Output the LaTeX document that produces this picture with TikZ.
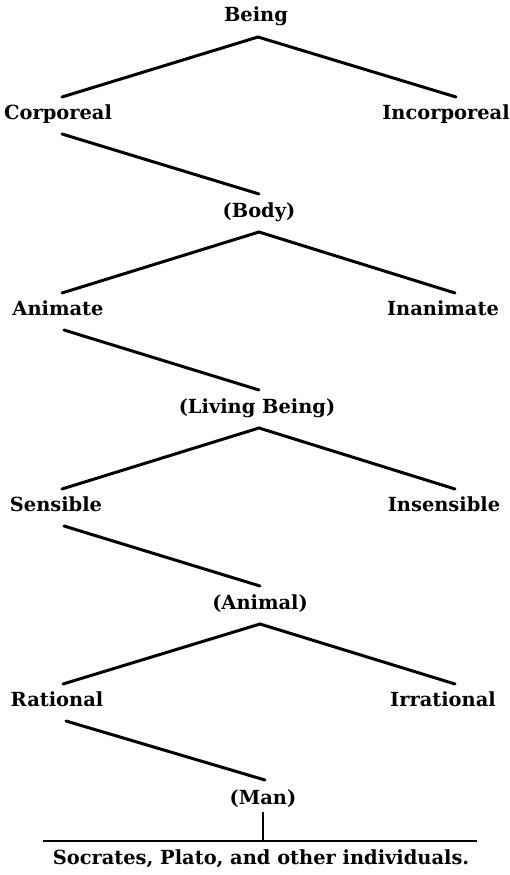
\documentclass[tikz,border=0pt]{standalone}
\usepackage{fontspec}
\setmainfont{DejaVu Serif}
\tikzset{
  term/.style={anchor=base,inner sep=0pt,font=\fontsize{19.5}{23}\selectfont\bfseries},
  branch/.style={line width=3bp,line cap=round},
  rule/.style={line width=1.5bp},
}
\begin{document}
\begin{tikzpicture}[x=1bp,y=-1bp]
 \useasboundingbox (0,0) rectangle (510,875);
 % the terms, one row per step of division
 \node[term] (being) at (256,21) {Being};
 \node[term] (corp) at (58,119) {Corporeal};
 \node[term] (incorp) at (446,119) {Incorporeal};
 \node[term] (body) at (259,217) {(Body)};
 \node[term] (anim) at (58,315) {Animate};
 \node[term] (inanim) at (443,315) {Inanimate};
 \node[term] (living) at (257,413) {(Living Being)};
 \node[term] (sens) at (56,511) {Sensible};
 \node[term] (insens) at (444,511) {Insensible};
 \node[term] (animal) at (260,609) {(Animal)};
 \node[term] (rat) at (57,706) {Rational};
 \node[term] (irrat) at (443,706) {Irrational};
 \node[term] (man) at (263,804) {(Man)};
 \node[term] (indiv) at (261,864) {Socrates, Plato, and other individuals.};
 \coordinate (ruleL) at (43,841);
 \coordinate (ruleR) at (477,841);
 % branches
 \draw[branch] ([shift={(4,-22)}]corp.base) -- ([shift={(2,16)}]being.base) -- ([shift={(10,-22)}]incorp.base);
 \draw[branch] ([shift={(4,15)}]corp.base) -- ([shift={(0,-23)}]body.base);
 \draw[branch] ([shift={(4,-22)}]anim.base) -- ([shift={(0,15)}]body.base) -- ([shift={(12,-22)}]inanim.base);
 \draw[branch] ([shift={(6,15)}]anim.base) -- ([shift={(2,-23)}]living.base);
 \draw[branch] ([shift={(6,-22)}]sens.base) -- ([shift={(2,15)}]living.base) -- ([shift={(11,-22)}]insens.base);
 \draw[branch] ([shift={(8,15)}]sens.base) -- ([shift={(0,-23)}]animal.base);
 \draw[branch] ([shift={(6,-22)}]rat.base) -- ([shift={(0,15)}]animal.base) -- ([shift={(12,-22)}]irrat.base);
 \draw[branch] ([shift={(9,15)}]rat.base) -- ([shift={(2,-24)}]man.base);
 \draw[rule] (ruleL) -- (ruleR);
 \draw[line width=1.8bp] ([shift={(0,8)}]man.base) -- (man.base |- ruleL);
\end{tikzpicture}
\end{document}
